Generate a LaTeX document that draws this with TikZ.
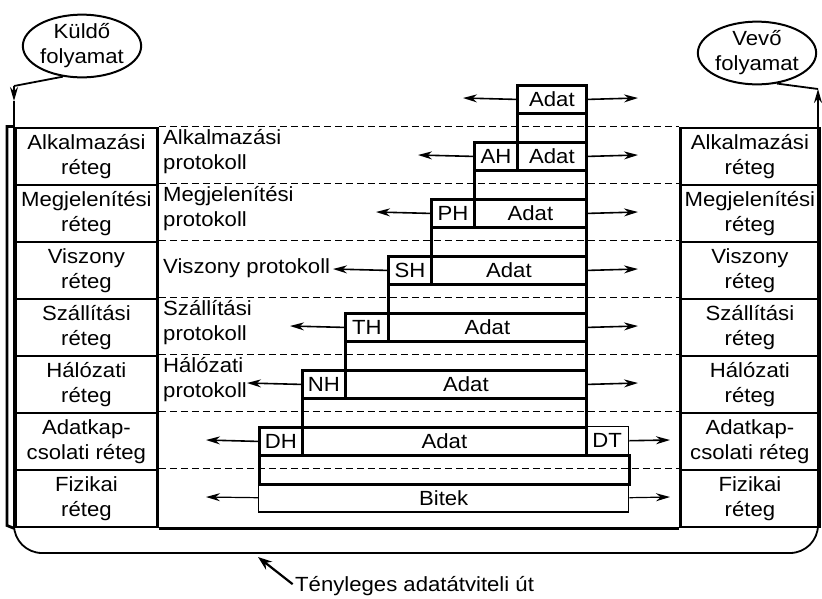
\documentclass[tikz,border=0pt]{standalone}
\usepackage{fontspec}
\setmainfont[FakeStretch=1.08]{Liberation Sans}
\usetikzlibrary{arrows.meta,shapes.geometric}
\begin{document}
\begin{tikzpicture}[x=1pt,y=-1pt,
  every node/.style={font=\fontsize{20.5}{25}\selectfont, inner sep=0pt},
  pk/.style={draw, line width=2.8pt, minimum height=28.5pt, anchor=north west},
  pkthin/.style={draw, line width=1.4pt, minimum height=28.5pt, anchor=north west},
  stackbox/.style={draw, line width=2.8pt, minimum height=57pt, anchor=north west, align=center},
  proto/.style={anchor=west, align=left},
  dashline/.style={line width=1.8pt, dash pattern=on 7pt off 4pt},
  arr/.style={line width=1.6pt, -{Stealth[length=14pt,width=8pt]}},
  proc/.style={draw, ellipse, line width=2pt, minimum width=110pt, minimum height=58pt, align=center},
  pathline/.style={line width=1.8pt}
]
\useasboundingbox (0,0) rectangle (822,598);

% processes
\node[proc] (K) at (82,46) {Küldő\\folyamat};
\node[proc] (V) at (757,53) {Vevő\\folyamat};

% left stack
\node[stackbox, minimum width=142pt] (L1) at (14,126.5) {Alkalmazási\\réteg};
\node[stackbox, minimum width=142pt] (L2) at (14,183.5) {Megjelenítési\\réteg};
\node[stackbox, minimum width=142pt] (L3) at (14,240.5) {Viszony\\réteg};
\node[stackbox, minimum width=142pt] (L4) at (14,297.5) {Szállítási\\réteg};
\node[stackbox, minimum width=142pt] (L5) at (14,354.5) {Hálózati\\réteg};
\node[stackbox, minimum width=142pt] (L6) at (14,411.5) {Adatkap-\\csolati réteg};
\node[stackbox, minimum width=142pt] (L7) at (14,468.5) {Fizikai\\réteg};
\draw[line width=2.8pt] (L1.north west) -- (7,126.5) -- (7,525.5) -- (L7.south west);

% right stack
\node[stackbox, minimum width=139pt] (R1) at (679,126.5) {Alkalmazási\\réteg};
\node[stackbox, minimum width=139pt] (R2) at (679,183.5) {Megjelenítési\\réteg};
\node[stackbox, minimum width=139pt] (R3) at (679,240.5) {Viszony\\réteg};
\node[stackbox, minimum width=139pt] (R4) at (679,297.5) {Szállítási\\réteg};
\node[stackbox, minimum width=139pt] (R5) at (679,354.5) {Hálózati\\réteg};
\node[stackbox, minimum width=139pt] (R6) at (679,411.5) {Adatkap-\\csolati réteg};
\node[stackbox, minimum width=139pt] (R7) at (679,468.5) {Fizikai\\réteg};

% dashed separators and bottom line
\foreach \k in {1,...,7} {\draw[dashline] (L\k.north east) -- (R\k.north west);}
\draw[line width=2.8pt] (L7.south east) -- (R7.south west);

% protocol labels
\node[proto] (P1) at (163,152) {Alkalmazási\\protokoll};
\node[proto] (P2) at (163,209) {Megjelenítési\\protokoll};
\node[proto] (P3) at (163,268) {Viszony protokoll};
\node[proto] (P4) at (163,323) {Szállítási\\protokoll};
\node[proto] (P5) at (163,380) {Hálózati\\protokoll};

% packets
\node[pk, minimum width=69pt] (A0) at (516,83.75) {Adat};
\node[pk, minimum width=69pt] (G0) at (516,112.25) {};
\node[pk, minimum width=43pt] (H1) at (473,140.75) {AH};
\node[pk, minimum width=69pt] (A1) at (516,140.75) {Adat};
\node[pk, minimum width=112pt] (G1) at (473,169.25) {};
\node[pk, minimum width=43pt] (H2) at (430,197.75) {PH};
\node[pk, minimum width=112pt] (A2) at (473,197.75) {Adat};
\node[pk, minimum width=155pt] (G2) at (430,226.25) {};
\node[pk, minimum width=43pt] (H3) at (387,254.75) {SH};
\node[pk, minimum width=155pt] (A3) at (430,254.75) {Adat};
\node[pk, minimum width=198pt] (G3) at (387,283.25) {};
\node[pk, minimum width=43pt] (H4) at (344,311.75) {TH};
\node[pk, minimum width=198pt] (A4) at (387,311.75) {Adat};
\node[pk, minimum width=241pt] (G4) at (344,340.25) {};
\node[pk, minimum width=43pt] (H5) at (301,368.75) {NH};
\node[pk, minimum width=241pt] (A5) at (344,368.75) {Adat};
\node[pk, minimum width=284pt] (G5) at (301,397.25) {};
\node[pk, minimum width=43pt] (H6) at (258,425.75) {DH};
\node[pk, minimum width=284pt] (A6) at (301,425.75) {Adat};
\node[pkthin, minimum width=43pt] (T6) at (585,425.75) {DT};
\node[pk, minimum width=370pt] (G6) at (258,454.25) {};
\node[pkthin, minimum width=370pt] (B7) at (258,482.75) {Bitek};

% arrow end points
\coordinate (l0) at (463,98);
\coordinate (l1) at (418,155);
\coordinate (l2) at (376,212);
\coordinate (l3) at (333,269);
\coordinate (l4) at (290,326);
\coordinate (l5) at (247,383);
\coordinate (l6) at (206,440);
\coordinate (l7) at (206,497);
\foreach \k in {0,...,5} {\coordinate (r\k) at (638,98+57*\k);}
\coordinate (r6) at (670,440);
\coordinate (r7) at (670,497);

\draw[arr] (A0.west) -- (l0);
\foreach \k in {1,...,6} {\draw[arr] (H\k.west) -- (l\k);}
\draw[arr, line width=1.2pt] (B7.west) -- (l7);
\foreach \k in {0,...,5} {\draw[arr] (A\k.east) -- (r\k);}
\draw[arr] (T6.east) -- (r6);
\draw[arr, line width=1.2pt] (B7.east) -- (r7);

% actual transmission path
\coordinate (ka) at (14,86);
\coordinate (kb) at (14,101);
\coordinate (va) at (818,89);
\coordinate (vb) at (818,106);
\draw[pathline] (K.238) -- (ka);
\draw[arr, line width=1.8pt] (ka) -- (kb);
\draw[pathline, rounded corners=28pt] (kb) -- (14,553) -- (818,553) -- (vb);
\draw[arr, line width=1.8pt] (vb) -- (va);
\draw[pathline] (va) -- (V.303);

% caption
\node[anchor=west] (TX) at (295,586) {Tényleges adatátviteli út};
\coordinate (ta) at (258,557);
\draw[line width=2.2pt, -{Stealth[length=14pt,width=10pt]}, shorten <=3pt] (TX.west) -- (ta);
\end{tikzpicture}
\end{document}
